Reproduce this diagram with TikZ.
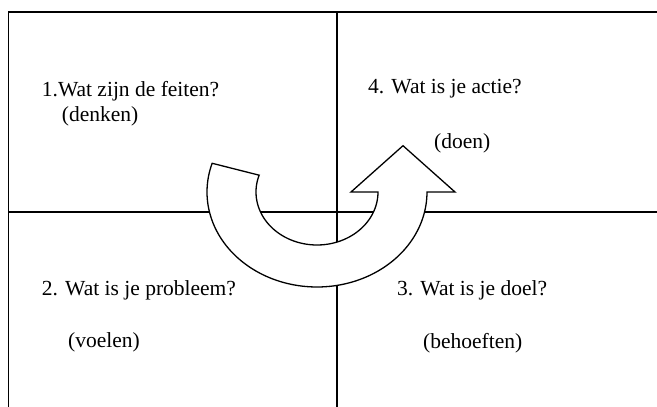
\documentclass[tikz,border=0pt]{standalone}
\usepackage{fontspec}
\setmainfont{Liberation Serif}
\begin{document}
\begin{tikzpicture}[x=1pt,y=-1pt,
  gridline/.style={line width=1.6pt,black},
  label/.style={anchor=base west,inner sep=0pt,font=\fontsize{21.5}{25}\selectfont},
  turnarrow/.style={draw=black,line width=1.3pt,fill=white,line join=miter}]
\useasboundingbox (0,0) rectangle (657,407);
% frame coordinates
\coordinate (tl) at (8.3,11.7);
\coordinate (tr) at (657,11.7);
\coordinate (bl) at (8.3,407);
\coordinate (ml) at (8.3,211.7);
\coordinate (mr) at (657,211.7);
\coordinate (mt) at (336.7,11.7);
\coordinate (mb) at (336.7,407);
\draw[gridline] (tr) -- (tl) -- (bl);
\draw[gridline] (ml) -- (mr);
\draw[gridline] (mt) -- (mb);
% U-turn arrow
\draw[turnarrow]
  (427,192) -- (455,192) -- (403,145.7) -- (351,192) -- (378,192)
  -- plot[domain=0:198.5,samples=80] ({317+61*cos(\x)},{192+53*sin(\x)})
  -- plot[domain=197.6:0,samples=100] ({317+110*cos(\x)},{192+95*sin(\x)})
  -- cycle;
% texts
\node[label] (t1) at (41.7,96) {1.Wat zijn de feiten?};
\node[label] (t1b) at (61.7,121.7) {(denken)};
\node[label] (t4) at (368,93) {4. Wat is je actie?};
\node[label] (t4b) at (434,148) {(doen)};
\node[label] (t2) at (41.7,295) {2. Wat is je probleem?};
\node[label] (t2b) at (68,347.7) {(voelen)};
\node[label] (t3) at (397,295) {3. Wat is je doel?};
\node[label] (t3b) at (423,348) {(behoeften)};
\end{tikzpicture}
\end{document}
